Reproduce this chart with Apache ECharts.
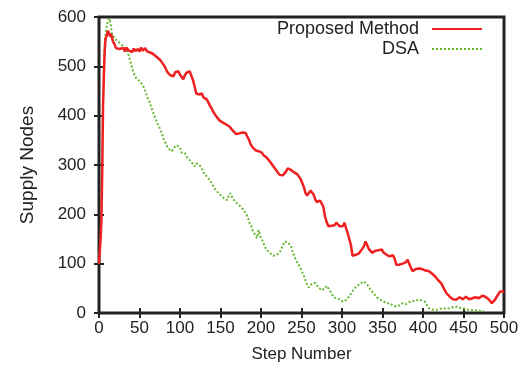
<!DOCTYPE html>
<html>
<head>
<meta charset="utf-8">
<script src="https://cdn.jsdelivr.net/npm/echarts@6/dist/echarts.min.js"></script>
<style>
  html, body { margin: 0; padding: 0; background: #fff; }
  #chart { width: 525px; height: 369px; }
</style>
</head>
<body>
<div id="chart"></div>
<script>
// values (step -> supply nodes)
const proposedSteps = [0,2,3,4,5,6,7,8,10,11,12,14,15,17,19,21,23,25,27,30,32,34,36,38,41,43,45,48,50,52,54,57,59,61,63,66,69,72,75,77,79,81,83,85,88,90,92,94,96,98,100,102,104,106,108,110,112,114,116,118,120,122,124,127,129,131,133,135,137,139,141,143,145,147,149,151,153,155,157,159,161,163,165,167,169,171,173,175,177,179,181,183,185,187,189,191,193,195,197,199,201,203,205,207,209,211,213,215,217,219,221,223,225,227,229,231,233,235,237,239,241,243,245,247,249,251,253,255,257,259,261,263,265,267,269,271,273,275,277,279,281,283,285,287,289,291,293,295,297,299,301,303,305,307,309,311,313,315,317,319,321,323,325,327,329,331,333,335,337,339,341,343,345,347,349,351,353,355,357,359,361,363,365,367,369,371,373,375,377,379,381,383,385,387,389,391,393,395,397,399,401,403,405,407,409,411,413,415,417,419,421,423,425,427,429,431,433,435,437,439,441,443,445,447,449,451,453,455,457,459,461,463,465,467,469,471,473,475,477,479,481,483,485,487,489,491,493,495,497,499,500];
const proposedValues = [100,150,190,290,420,480,530,555,565,572,568,560,566,552,545,537,541,535,539,537,530,538,533,535,529,536,531,535,530,538,532,537,531,534,528,526,522,518,514,510,505,500,493,487,482,486,480,488,485,490,483,481,474,482,487,484,490,488,472,460,445,448,443,445,437,440,433,427,420,415,408,405,398,394,390,393,386,388,382,384,378,374,370,366,363,361,364,368,366,369,365,358,352,343,337,333,330,333,328,326,325,320,318,315,313,307,303,298,294,289,285,280,276,279,282,287,293,294,290,289,285,287,281,276,271,273,255,243,238,240,248,252,240,230,225,222,228,230,215,196,185,176,174,177,175,178,183,182,176,172,176,183,172,162,150,138,116,114,118,117,121,124,130,135,145,138,130,127,122,124,126,130,127,128,129,123,120,118,116,115,118,117,110,98,96,98,97,100,99,103,108,104,92,85,87,89,86,90,88,89,87,86,84,85,83,80,77,74,70,66,62,59,52,46,40,36,33,31,28,30,27,29,32,31,28,30,33,30,28,32,30,28,32,34,30,33,35,31,33,32,28,24,20,22,27,33,38,43,40,44,42];

const dsaSteps = [0,2,3,4,5,6,7,8,9,10,11,12,13,14,15,16,18,20,22,24,26,28,30,32,34,36,38,40,42,44,46,48,50,52,54,56,58,60,62,64,66,68,70,72,74,76,78,80,82,84,86,88,90,92,94,96,98,100,102,104,106,108,110,112,114,116,118,120,122,124,126,128,130,132,134,136,138,140,142,144,146,148,150,152,154,156,158,160,162,164,166,168,170,172,174,176,178,180,182,184,186,188,190,191,193,195,197,199,201,203,205,207,209,211,213,215,217,219,221,223,225,227,229,231,233,235,237,239,241,243,245,247,249,251,253,255,257,259,261,263,265,267,269,271,273,275,277,279,281,283,285,287,289,291,293,295,297,299,301,303,305,307,309,311,313,315,317,319,321,323,325,327,329,331,333,335,337,339,341,343,345,347,349,351,353,355,357,359,361,363,365,367,369,371,373,375,377,379,381,383,385,387,389,391,393,395,397,399,401,403,405,407,409,411,413,415,417,419,421,423,425,427,429,431,433,435,437,439,441,443,445,447,449,451,453,455,457,459,461,463,465,467,469,471,473,475];
const dsaValues = [100,160,220,330,430,500,545,565,578,585,592,596,597,590,578,565,560,556,552,549,547,543,541,540,534,526,514,503,490,482,476,472,470,469,462,455,446,436,430,420,410,402,393,385,378,370,362,352,345,338,333,330,328,334,337,340,343,335,325,322,324,317,313,310,307,302,297,303,307,300,297,290,281,278,276,272,266,261,254,250,246,243,239,236,233,230,229,237,243,236,230,226,223,219,217,215,210,205,200,192,182,176,166,165,158,152,168,156,153,142,134,128,124,122,120,116,114,118,121,122,130,137,145,148,143,140,136,124,116,108,102,98,90,82,75,66,57,52,55,60,58,61,57,52,50,46,44,50,55,57,46,40,34,31,29,27,28,25,23,24,26,30,34,38,44,49,51,55,58,60,61,64,62,58,53,48,44,40,36,32,29,27,25,24,22,20,22,20,17,15,14,13,14,16,18,20,19,18,20,22,23,24,26,25,24,27,26,25,24,22,15,10,8,7,6,6,5,7,8,9,10,9,8,9,10,11,12,13,13,12,11,10,10,9,8,7,6,6,5,6,5,5,5,4,4,4];

const xTicks = [0, 50, 100, 150, 200, 250, 300, 350, 400, 450, 500];
const yTicks = [0, 100, 200, 300, 400, 500, 600];

const chart = echarts.init(document.getElementById("chart"));

const fontFamily = "'Liberation Sans', Arial, sans-serif";
const ink = "#222";
const red = "#ee2020";
const green = "#66b833";

const tickStyle = {
  show: true,
  inside: true,
  length: 5,
  lineStyle: { color: ink, width: 2 },
};

const xBase = {
  type: "value",
  min: xTicks[0],
  max: xTicks[xTicks.length - 1],
  interval: 50,
  splitLine: { show: false },
  axisLine: { show: false },
  axisTick: tickStyle,
};
const yBase = {
  type: "value",
  min: yTicks[0],
  max: yTicks[yTicks.length - 1],
  interval: 100,
  splitLine: { show: false },
  axisLine: { show: false },
  axisTick: tickStyle,
};

const option = {
  animation: false,
  backgroundColor: "#fff",
  textStyle: { fontFamily },
  grid: {
    left: 99,
    right: 21,
    top: 17,
    bottom: 56,
    show: true,
    borderColor: ink,
    borderWidth: 3,
  },
  legend: {
    right: 42,
    top: 20,
    orient: "vertical",
    align: "right",
    itemWidth: 50,
    itemHeight: 10,
    itemGap: 2,
    padding: 0,
    // hide the round marker, keep only the line sample
    itemStyle: { color: "rgba(0,0,0,0)", borderWidth: 0 },
    textStyle: { fontFamily, fontSize: 18, color: ink, padding: [0, 8, 0, 0] },
    data: ["Proposed Method", "DSA"],
  },
  xAxis: [
    {
      ...xBase,
      position: "bottom",
      name: "Step Number",
      nameLocation: "middle",
      nameGap: 33,
      nameTextStyle: { fontFamily, fontSize: 17, color: ink },
      axisLabel: { fontFamily, fontSize: 17, color: ink, margin: 7 },
    },
    { ...xBase, position: "top", axisLabel: { show: false } },
  ],
  yAxis: [
    {
      ...yBase,
      position: "left",
      name: "Supply Nodes",
      nameLocation: "middle",
      nameGap: 62,
      nameTextStyle: { fontFamily, fontSize: 19, color: ink },
      axisLabel: { fontFamily, fontSize: 17, color: ink, margin: 13 },
    },
    { ...yBase, position: "right", axisLabel: { show: false } },
  ],
  series: [
    {
      name: "Proposed Method",
      type: "line",
      data: proposedSteps.map((s, i) => [s, proposedValues[i]]),
      symbol: "none",
      lineStyle: { color: red, width: 2.5 },
      itemStyle: { color: red },
      z: 3,
    },
    {
      name: "DSA",
      type: "line",
      data: dsaSteps.map((s, i) => [s, dsaValues[i]]),
      symbol: "none",
      lineStyle: { color: green, width: 2, type: [2, 2] },
      itemStyle: { color: green },
      z: 2,
    },
  ],
};

chart.setOption(option);
</script>
</body>
</html>
